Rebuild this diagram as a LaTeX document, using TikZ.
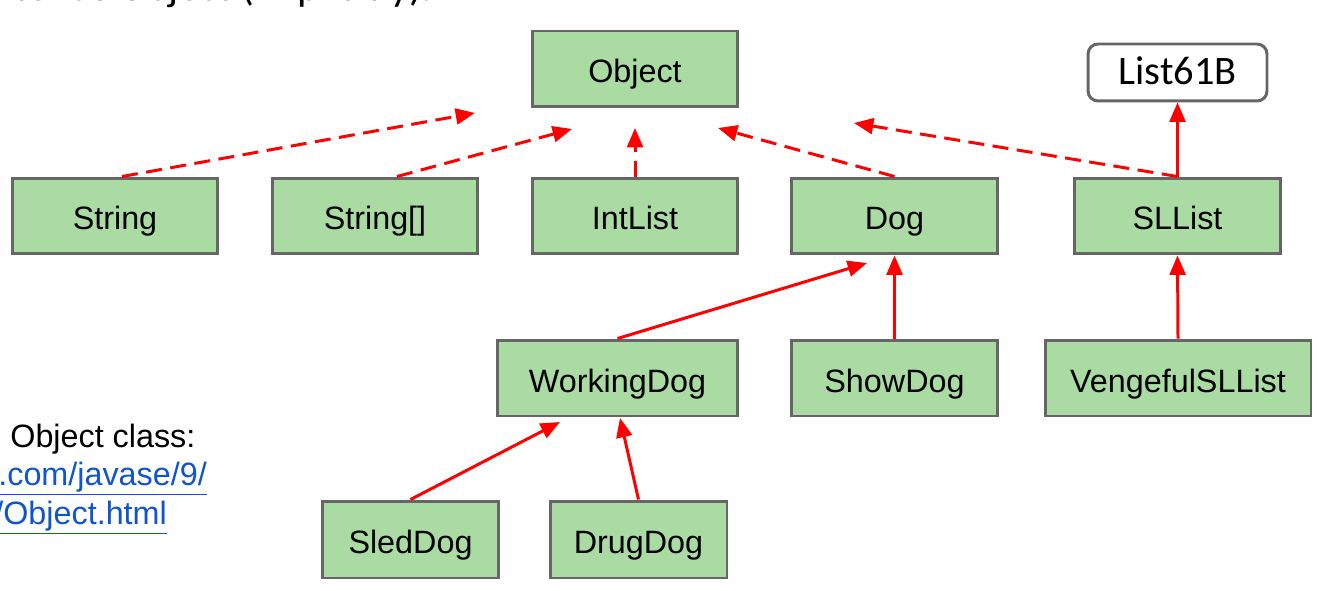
\documentclass[tikz,border=0pt]{standalone}
\usepackage{fontspec}
\setmainfont{Liberation Sans}
\newfontfamily\calibrifont{Carlito}
\usetikzlibrary{arrows.meta}
\definecolor{boxgreen}{HTML}{A9DBA3}
\definecolor{boxgray}{HTML}{666666}
\definecolor{linkblue}{HTML}{1155CC}
\newcommand{\boxheight}{1.52cm}

\begin{document}
\begin{tikzpicture}[x=0.02cm,y=-0.02cm]
                \useasboundingbox (0,0) rectangle (1324,591);
                \clip (0,0) rectangle (1324,591);

                % text cut off by the slide edge
                \node[anchor=base east,inner sep=0pt,font=\calibrifont\fontsize{24}{28}\selectfont] (title) at (433,1) {extends Object (implicitly).};
                \node[anchor=base west,inner sep=0pt,font=\fontsize{18.4}{22}\selectfont] (doc) at (10,447) {Object class:};
                \node[anchor=base west,inner sep=0pt,font=\fontsize{18.4}{22}\selectfont,text=linkblue] (url1) at (-2,485) {\underline{.com/javase/9/}};
                \node[anchor=base west,inner sep=0pt,font=\fontsize{18.4}{22}\selectfont,text=linkblue] (url2) at (-6,524) {\underline{/Object.html}};

                \begin{scope}[every node/.style={rectangle,draw=boxgray,fill=boxgreen,line width=1.7pt,minimum width=4.12cm,minimum height=\boxheight,text height=0.6cm,text depth=0.04cm,font=\fontsize{18.4}{22}\selectfont}]
                    \node (obj) at (635,69) {Object};
                    \node (str) at (115,216) {String};
                    \node (strarr) at (375,216) {String[]};
                    \node (intlist) at (635,216) {IntList};
                    \node (dog) at (894.5,216) {Dog};
                    \node (sllist) at (1177.5,216) {SLList};
                    \node[minimum width=4.82cm] (working) at (617.5,378) {WorkingDog};
                    \node (show) at (894.5,378) {ShowDog};
                    \node[minimum width=5.32cm] (vengeful) at (1178,378) {VengefulSLList};
                    \node[minimum width=3.54cm,minimum height=1.54cm] (sled) at (410.5,539.5) {SledDog};
                    \node[minimum width=3.54cm,minimum height=1.54cm] (drug) at (638.5,539.5) {DrugDog};
                    \node[fill=white,rounded corners=0.2cm,minimum width=3.58cm,minimum height=1.14cm,text height=0.55cm,text depth=0.05cm,font=\calibrifont\fontsize{23}{27}\selectfont] (list) at (1177.5,72.5) {List61B};
                \end{scope}

                % free ends of the arrows
                \coordinate (tstr) at (475,113);
                \coordinate (tstrarr) at (572,129);
                \coordinate (tint) at (635,128);
                \coordinate (tdog) at (718,128);
                \coordinate (tsl) at (854,123);
                \coordinate (tworking) at (867,263);
                \coordinate (tsled) at (560,422);
                \coordinate (tdrug) at (620,418);

                \begin{scope}[>={Triangle[length=11pt,width=9pt]},
                    every path/.style={draw=red,line width=1.7pt}]
                    \draw [->,dash pattern=on 0.32cm off 0.17cm] ([xshift=0.14cm]str.north) -- (tstr);
                    \draw [->,dash pattern=on 0.32cm off 0.17cm] ([xshift=0.44cm]strarr.north) -- (tstrarr);
                    \draw [->,dash pattern=on 0.32cm off 0.17cm] (intlist.north) -- (tint);
                    \draw [->,dash pattern=on 0.32cm off 0.17cm] (dog.north) -- (tdog);
                    \draw [->,dash pattern=on 0.32cm off 0.17cm] (sllist.north) -- (tsl);

                    \draw [->] (sllist.north) -- (list.south);
                    \draw [->] (working.north) -- (tworking);
                    \draw [->] (show.north) -- (dog.south);
                    \draw [->] (vengeful.north) -- (sllist.south);
                    \draw [->] (sled.north) -- (tsled);
                    \draw [->] (drug.north) -- (tdrug);
                \end{scope}
            \end{tikzpicture}
\end{document}
